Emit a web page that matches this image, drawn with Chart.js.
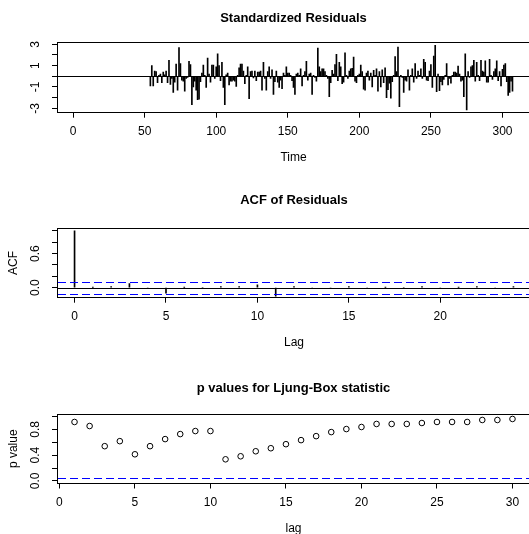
<!DOCTYPE html>
<html>
<head>
<meta charset="utf-8">
<script src="https://cdn.jsdelivr.net/npm/chart.js@4.4.1/dist/chart.umd.min.js"></script>
<style>
  html, body { margin: 0; padding: 0; background: #fff; overflow: hidden; }
  #wrap { position: relative; width: 529px; height: 534px; overflow: hidden; }
  canvas { position: absolute; left: 0; }
</style>
</head>
<body>
<div id="wrap">
  <canvas id="resid" width="560" height="186" style="top:0px"></canvas>
  <canvas id="acf" width="560" height="186" style="top:186px"></canvas>
  <canvas id="ljung" width="560" height="186" style="top:372px"></canvas>
</div>
<script>
// standardized residuals, one per time step, first one at t = 54
const residStart = 54;
const residuals = [
  -0.9, 1.0, -0.9, 0.5, 0.45, -0.6, 0.1, 0.2, -0.6, 0.4,
  0.15, 0.5, -0.6, 1.5, -0.75, -0.2, -1.5, -0.55, 1.15, -1.3,
  2.7, 1.2, -0.35, -0.45, -1.4, -0.2, -0.1, 1.4, 1.1, -2.65,
  -1.0, -0.45, -1.3, -2.2, -2.15, -0.5, 0.3, 1.05, 0.1, -1.05,
  1.7, 0.2, -0.55, 1.05, 1.05, -0.2, 0.9, 2.1, 1.0, -0.4,
  1.3, -1.05, -2.65, 0.15, 0.3, -0.8, -0.45, -0.45, -0.35, -0.45,
  -0.95, 0.1, 0.8, 1.15, 1.15, 0.5, -0.7, 0.1, 0.9, -2.1,
  0.45, 0.5, -0.15, 0.5, -0.4, 0.4, 0.4, 0.5, -1.3, 1.3,
  -0.2, -1.3, 0.45, 0.9, -0.2, 0.6, -1.7, -0.5, 0.5, -0.55,
  -1.05, -0.35, -1.15, 0.3, 0.1, 0.9, 0.3, 0.3, 0.1, -0.4,
  -1.05, -1.7, 0.2, 0.3, 0.1, 0.7, -0.9, 0.1, 0.45, 1.4,
  -0.35, 0.2, 0.3, -1.7, 0.1, -0.1, -0.45, 2.65, 0.9, 0.45,
  0.7, 0.7, 0.45, 0.1, -0.2, -1.9, -0.6, 0.55, 0.2, 1.1,
  2.05, -0.4, 1.3, 0.9, -0.7, -0.55, 2.2, 0.1, -0.2, 0.5,
  0.7, 0.75, 1.8, -0.45, -0.6, 0.1, 0.2, 1.05, 0.45, -1.2,
  -1.3, 0.3, 0.5, -0.35, 0.3, -1.0, 0.55, 0.1, 0.7, -1.4,
  0.45, -1.0, 0.6, -0.6, 0.8, -2.0, -1.25, -0.65, -2.05, -0.5,
  0.1, 1.85, 0.45, 2.75, -2.85, 0.1, -0.1, -1.5, -0.35, -0.45,
  0.6, -1.3, 0.1, 0.7, -0.55, 1.2, -0.2, 0.5, 0.1, 0.7,
  -0.2, 1.6, 1.3, -0.35, -0.4, 0.5, 1.1, -1.05, 1.9, 2.9,
  -1.45, 0.2, -1.35, -0.5, -0.8, -0.3, 0.1, 1.2, -0.8, -0.2,
  -0.65, 0.1, 0.4, 0.4, 0.3, 0.95, 0.2, -0.45, -0.35, -1.9,
  2.1, -3.15, 0.45, -0.1, 0.9, 1.0, 1.5, -0.45, 1.3, 0.1,
  -0.4, 1.5, 0.5, 0.4, 1.45, -0.55, -0.55, 1.6, 0.1, -0.3,
  0.45, 0.7, 1.45, -0.4, 0.45, -0.9, 0.65, 1.05, 1.2, -0.5,
  -1.8, -1.5, -0.45, -1.4
];
const residXTicks = [0, 50, 100, 150, 200, 250, 300];
const residYTicks = [-3, -2, -1, 0, 1, 2, 3];
const residYLabels = [-3, -1, 1, 3];

// ACF of residuals
const acfLags = [0, 1, 2, 3, 4, 5, 6, 7, 8, 9, 10, 11, 12, 13, 14, 15, 16, 17, 18, 19, 20, 21, 22, 23, 24];
const acfValues = [1.0, 0.005, 0.02, 0.07, -0.02, -0.1, 0.003, -0.005, 0.02, 0.02, 0.05, -0.15,
  0.02, -0.02, -0.02, 0.02, -0.02, 0.004, -0.004, 0.02, -0.02, 0.005, 0.02, -0.02, 0.02];
const acfBound = 0.107;
const acfXTicks = [0, 5, 10, 15, 20];
const acfYTicks = [0, 0.2, 0.4, 0.6, 0.8, 1.0];
const acfYLabels = [0, 0.6];

// Ljung-Box p values
const lbLags = [1, 2, 3, 4, 5, 6, 7, 8, 9, 10, 11, 12, 13, 14, 15, 16, 17, 18, 19, 20, 21, 22, 23, 24, 25, 26, 27, 28, 29, 30];
const lbPValues = [0.916, 0.853, 0.54, 0.618, 0.414, 0.54, 0.65, 0.728, 0.775, 0.775,
  0.336, 0.383, 0.461, 0.508, 0.571, 0.634, 0.696, 0.759, 0.806, 0.838,
  0.885, 0.885, 0.885, 0.9, 0.916, 0.916, 0.916, 0.947, 0.947, 0.963];
const lbLevel = 0.05;
const lbXTicks = [0, 5, 10, 15, 20, 25, 30];
const lbYTicks = [0, 0.2, 0.4, 0.6, 0.8, 1.0];
const lbYLabels = [0, 0.4, 0.8];

const FONT = "'Liberation Sans', Arial, sans-serif";
const CW = 560;
const BLUE = 'rgb(0, 0, 255)';

// box around plot region, reference lines, R-style vertical y labels
const align = p => Math.round(p - 0.5) + 0.5;
function makeBox(hLines, yLabels, digits) {
  return {
    id: 'rBox',
    afterDraw(chart) {
      const { ctx, chartArea: a } = chart;
      const y = chart.scales.y;
      ctx.save();
      ctx.strokeStyle = '#000';
      ctx.lineWidth = 1;
      ctx.setLineDash([]);
      ctx.strokeRect(align(a.left), align(a.top), align(a.right) - align(a.left), align(a.bottom) - align(a.top));
      ctx.restore();

      // reference lines (abline), dashes drawn as short filled runs
      hLines.forEach(h => {
        const py = Math.round(y.getPixelForValue(h.value));
        const x0 = Math.round(a.left) + 1, x1 = Math.round(a.right);
        ctx.save();
        ctx.fillStyle = h.color;
        if (!h.dash) {
          ctx.fillRect(x0, py, x1 - x0, 1);
        } else {
          for (let x = x0; x < x1; x += h.dash[0] + h.dash[1]) {
            ctx.fillRect(x, py, Math.min(h.dash[0], x1 - x), 1);
          }
        }
        ctx.restore();
      });

      ctx.save();
      ctx.fillStyle = '#000';
      ctx.font = '12px ' + FONT;
      ctx.textAlign = 'center';
      ctx.textBaseline = 'middle';
      yLabels.forEach(v => {
        ctx.save();
        ctx.translate(36, y.getPixelForValue(v));
        ctx.rotate(-Math.PI / 2);
        ctx.fillText(v.toFixed(digits), 0, 0);
        ctx.restore();
      });
      ctx.restore();
    }
  };
}

const axisGrid = { drawOnChartArea: false, drawTicks: true, tickLength: 5, color: '#000', lineWidth: 1, offset: false };
const axisBorder = { display: true, color: '#000', width: 1 };

function xScale(g, min, max, ticks, title) {
  return {
    type: 'linear', min: min, max: max, offset: false,
    afterBuildTicks: s => { s.ticks = ticks.map(v => ({ value: v })); },
    afterFit: s => { s.height = g.h - g.bottom; },
    grid: axisGrid,
    border: axisBorder,
    ticks: { color: '#000', font: { family: FONT, size: 12 }, padding: 7, maxRotation: 0, autoSkip: false,
      callback: v => String(v) },
    title: { display: true, text: title, color: '#000', font: { family: FONT, size: 12 },
      padding: { top: 0, bottom: g.h - g.bottom - 45 - 7.2 } }
  };
}

function yScale(min, max, ticks, title) {
  return {
    type: 'linear', min: min, max: max,
    afterBuildTicks: s => { s.ticks = ticks.map(v => ({ value: v })); },
    afterFit: s => { s.width = 57; },
    grid: axisGrid,
    border: axisBorder,
    ticks: { display: false },
    title: { display: !!title, text: title || '', color: '#000', font: { family: FONT, size: 12 },
      padding: { top: 6.8, bottom: 0 } }
  };
}

function rPanel(canvasId, g, type, datasets, titleText, scales, box) {
  const ctx = document.getElementById(canvasId).getContext('2d');
  return new Chart(ctx, {
    type: type,
    data: { datasets: datasets },
    options: {
      responsive: false,
      animation: false,
      devicePixelRatio: 1,
      events: [],
      layout: { padding: { top: 0, left: 0, bottom: 0, right: CW - g.right } },
      plugins: {
        legend: { display: false },
        tooltip: { enabled: false },
        title: {
          display: true, text: titleText, color: '#000', fullSize: false,
          font: { family: FONT, size: 13, weight: 'bold' },
          padding: { top: g.title - 7.8, bottom: g.top - g.title - 7.8 }
        }
      },
      scales: scales
    },
    plugins: [box]
  });
}

// === STANDARDIZED RESIDUALS ===
const g1 = { h: 186, title: 18, top: 42.7, bottom: 112.7, right: 530 };
rPanel('resid', g1, 'bar', [{
    data: residuals.map((v, i) => ({ x: residStart + i, y: v })),
    backgroundColor: '#000',
    barThickness: 1
  }], 'Standardized Residuals',
  { x: xScale(g1, -11.24, 319.24, residXTicks, 'Time'), y: yScale(-3.41, 3.15, residYTicks) },
  makeBox([{ value: 0, color: '#000' }], residYLabels, 0));

// === ACF ===
const g2 = { h: 186, title: 14, top: 42.3, bottom: 111.7, right: 531 };
rPanel('acf', g2, 'bar', [{
    data: acfLags.map((l, i) => ({ x: l, y: acfValues[i] })),
    backgroundColor: '#000',
    barThickness: 1
  }], 'ACF of Residuals',
  { x: xScale(g2, -0.96, 24.96, acfXTicks, 'Lag'), y: yScale(-0.178, 1.046, acfYTicks, 'ACF') },
  makeBox([
    { value: 0, color: '#000' },
    { value: acfBound, color: BLUE, dash: [8, 4] },
    { value: -acfBound, color: BLUE, dash: [8, 4] }
  ], acfYLabels, 1));

// === LJUNG-BOX ===
const g3 = { h: 186, title: 16, top: 42, bottom: 111.5, right: 530 };
rPanel('ljung', g3, 'scatter', [{
    data: lbLags.map((l, i) => ({ x: l, y: lbPValues[i] })),
    pointRadius: 2.8,
    pointBorderColor: '#000',
    pointBackgroundColor: 'rgba(0,0,0,0)',
    pointBorderWidth: 1,
    showLine: false
  }], 'p values for Ljung-Box statistic',
  { x: xScale(g3, -0.16, 31.16, lbXTicks, 'lag'), y: yScale(-0.04, 1.04, lbYTicks, 'p value') },
  makeBox([{ value: lbLevel, color: BLUE, dash: [8, 4] }], lbYLabels, 1));
</script>
</body>
</html>
